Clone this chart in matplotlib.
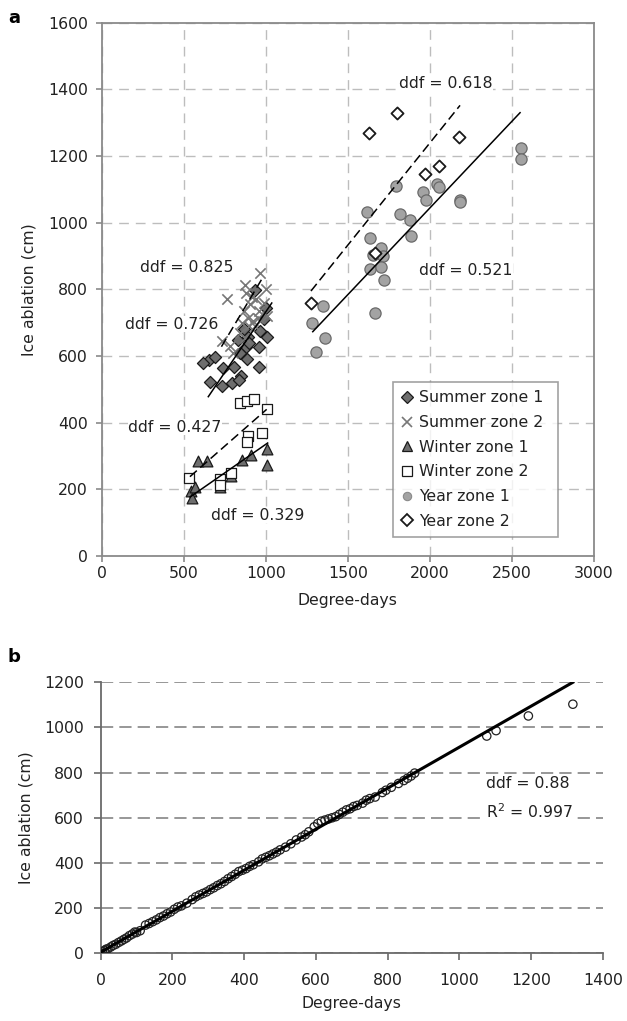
import matplotlib
matplotlib.use("Agg")
import matplotlib.pyplot as plt
from matplotlib.lines import Line2D

plt.rcParams['font.family'] = ['DejaVu Sans']

# ---------------- Panel a data ----------------
summer1_x = [935, 965, 1010, 894, 833, 880, 961, 841, 884, 961, 656, 691, 741, 807, 849, 660, 732, 793, 839, 870, 900, 1000, 990, 620]
summer1_y = [798, 675, 658, 656, 648, 626, 628, 608, 592, 568, 588, 598, 563, 566, 540, 521, 510, 518, 528, 680, 640, 745, 710, 580]

summer2_x = [965, 874, 766, 915, 1006, 880, 905, 940, 960, 990, 870, 895, 925, 950, 855, 900, 845, 875, 732, 803, 780, 935, 1000]
summer2_y = [850, 813, 770, 778, 720, 790, 755, 770, 735, 760, 735, 715, 705, 715, 700, 690, 670, 655, 645, 608, 630, 690, 800]

winter1_x = [589, 644, 1010, 1006, 909, 853, 543, 549, 569, 721, 787]
winter1_y = [285, 285, 320, 273, 303, 288, 195, 173, 206, 206, 240]

winter2_x = [843, 888, 929, 1006, 894, 976, 888, 787, 721, 721, 534]
winter2_y = [458, 466, 470, 440, 360, 370, 343, 250, 230, 212, 233]

year1_x = [2555, 2555, 2043, 2059, 1795, 1961, 1976, 2185, 2185, 1616, 1819, 1880, 1884,
           1636, 1703, 1656, 1717, 1636, 1703, 1720, 1669, 1351, 1284, 1363, 1307]
year1_y = [1225, 1191, 1115, 1108, 1110, 1092, 1067, 1068, 1063, 1032, 1025, 1007, 960,
           953, 925, 903, 901, 861, 866, 828, 729, 751, 700, 653, 611]

year2_x = [1799, 1628, 2181, 2059, 1971, 1669, 1276]
year2_y = [1330, 1268, 1258, 1170, 1145, 910, 758]

# regression line end points
fit_s1_x, fit_s1_y = [650, 1037], [478, 759]
fit_s2_x, fit_s2_y = [730, 985], [628, 838]
fit_w1_x, fit_w1_y = [539, 1012], [177, 339]
fit_w2_x, fit_w2_y = [538, 1006], [238, 440]
fit_y1_x, fit_y1_y = [1287, 2551], [673, 1330]
fit_y2_x, fit_y2_y = [1276, 2185], [795, 1352]

ddf_labels = ["ddf = 0.618", "ddf = 0.521", "ddf = 0.825", "ddf = 0.726", "ddf = 0.427", "ddf = 0.329"]
ddf_label_x = [2099, 2222, 518, 429, 447, 953]
ddf_label_y = [1418, 858, 866, 695, 386, 123]

legend_labels = ["Summer zone 1", "Summer zone 2", "Winter zone 1", "Winter zone 2", "Year zone 1", "Year zone 2"]

# ---------------- Panel b data ----------------
b_x = [0, 5, 10, 15, 20, 28, 35, 42, 50, 58, 65, 72, 80, 88, 95, 100, 110, 125, 135, 145,
       155, 165, 175, 185, 195, 205, 215, 225, 240, 255, 265, 275, 285, 295, 305, 315, 325,
       335, 345, 355, 365, 375, 385, 395, 405, 415, 425, 440, 450, 460, 470, 480, 490, 500,
       515, 530, 545, 560, 570, 580, 595, 605, 615, 625, 635, 645, 655, 665, 675, 685, 695,
       705, 715, 730, 740, 750, 765, 785, 795, 810, 830, 845, 855, 865, 875,
       1076, 1102, 1192, 1316]
b_y = [0, 8, 12, 18, 20, 28, 35, 40, 48, 55, 62, 68, 78, 85, 94, 92, 100, 125, 132, 140,
       148, 158, 165, 175, 183, 195, 205, 210, 222, 238, 250, 258, 265, 272, 282, 290, 300,
       308, 318, 330, 340, 350, 362, 368, 375, 385, 392, 405, 418, 425, 432, 440, 448, 458,
       470, 485, 502, 515, 525, 538, 560, 575, 585, 590, 595, 600, 605, 615, 625, 635, 640,
       650, 655, 665, 678, 685, 692, 712, 722, 735, 752, 765, 775, 785, 798,
       962, 986, 1051, 1103]
fit_b_x, fit_b_y = [0, 1316], [5, 1200]
b_labels = ["ddf = 0.88", "R$^2$ = 0.997"]
b_label_x = [1074, 1074]
b_label_y = [750, 627]

# ---------------- Figure ----------------
W, H = 627, 1021
fig = plt.figure(figsize=(W / 100, H / 100), dpi=100)
FS = 11.3
spine_c = '#8a8a8a'
txt_c = '#222222'

axa = fig.add_axes([101.7 / W, (H - 556) / H, 492 / W, 533.3 / H])
axa.set_xlim(0, 3000)
axa.set_ylim(0, 1600)
axa.set_xticks(range(0, 3001, 500))
axa.set_yticks(range(0, 1601, 200))
axa.grid(True, color='#bdbdbd', linestyle=(0, (7, 5)), linewidth=1.0)
axa.set_axisbelow(True)
for s in axa.spines.values():
    s.set_color(spine_c)
    s.set_linewidth(1.3)
axa.tick_params(colors=spine_c, labelcolor=txt_c, labelsize=FS, length=4, width=1.2, direction='out')
axa.tick_params(axis='y', pad=6)

dark = '#6e6e6e'
axa.scatter(summer1_x, summer1_y, marker='D', s=38, facecolor=dark, edgecolor='#1a1a1a', linewidth=0.9, zorder=3)
axa.scatter(summer2_x, summer2_y, marker='x', s=55, color='#777777', linewidth=1.2, zorder=3)
axa.scatter(winter1_x, winter1_y, marker='^', s=60, facecolor=dark, edgecolor='#1a1a1a', linewidth=0.9, zorder=3)
axa.scatter(winter2_x, winter2_y, marker='s', s=60, facecolor='white', edgecolor='#1a1a1a', linewidth=0.9, zorder=3)
axa.scatter(year1_x, year1_y, marker='o', s=65, facecolor='#a3a3a3', edgecolor='#6a6a6a', linewidth=0.9, zorder=3)
axa.scatter(year2_x, year2_y, marker='D', s=38, facecolor='white', edgecolor='#1a1a1a', linewidth=1.3, zorder=3)

axa.plot(fit_s1_x, fit_s1_y, color='black', lw=1.1, zorder=4)
axa.plot(fit_s2_x, fit_s2_y, color='black', lw=1.1, ls=(0, (6, 3)), zorder=4)
axa.plot(fit_w1_x, fit_w1_y, color='black', lw=1.1, zorder=4)
axa.plot(fit_w2_x, fit_w2_y, color='black', lw=1.1, ls=(0, (6, 3)), zorder=4)
axa.plot(fit_y1_x, fit_y1_y, color='black', lw=1.1, zorder=4)
axa.plot(fit_y2_x, fit_y2_y, color='black', lw=1.1, ls=(0, (6, 3)), zorder=4)

for t, x, y in zip(ddf_labels, ddf_label_x, ddf_label_y):
    axa.text(x, y, t, ha='center', va='center', fontsize=FS, color=txt_c, zorder=5,
             bbox=dict(facecolor='white', edgecolor='none', pad=0.5))

handles = [
    Line2D([], [], ls='none', marker='D', ms=6, mfc=dark, mec='#1a1a1a', mew=0.9),
    Line2D([], [], ls='none', marker='x', ms=7, color='#777777', mew=1.2),
    Line2D([], [], ls='none', marker='^', ms=7.5, mfc=dark, mec='#1a1a1a', mew=0.9),
    Line2D([], [], ls='none', marker='s', ms=7.5, mfc='white', mec='#1a1a1a', mew=0.9),
    Line2D([], [], ls='none', marker='o', ms=6, mfc='#a3a3a3', mec='#8a8a8a', mew=0.8),
    Line2D([], [], ls='none', marker='D', ms=6, mfc='white', mec='#1a1a1a', mew=1.3),
]
leg = axa.legend(handles, legend_labels, loc='lower left',
                 bbox_to_anchor=(0.5915, 0.036, 0.335, 0.3), mode='expand',
                 borderaxespad=0, fontsize=FS, frameon=True, fancybox=False,
                 handlelength=0.8, handletextpad=0.35, labelspacing=0.62, borderpad=0.5)
leg.get_frame().set_edgecolor('#8a8a8a')
leg.get_frame().set_linewidth(1.2)
for t in leg.get_texts():
    t.set_color(txt_c)

axa.set_xlabel('Degree-days', fontsize=FS, color=txt_c, labelpad=8)
axa.set_ylabel('Ice ablation (cm)', fontsize=FS, color=txt_c, labelpad=8)

fig.text(14 / W, 1 - 18 / H, 'a', fontsize=13, fontweight='bold', ha='center', va='center')

# ---------------- Panel b ----------------
axb = fig.add_axes([100.7 / W, (H - 953.3) / H, 502.3 / W, 271 / H])
axb.set_xlim(0, 1400)
axb.set_ylim(0, 1200)
axb.set_xticks(range(0, 1401, 200))
axb.set_yticks(range(0, 1201, 200))
axb.yaxis.grid(True, color='#7a7a7a', linestyle=(0, (8, 4)), linewidth=1.1)
axb.set_axisbelow(True)
axb.spines['top'].set_visible(False)
axb.spines['right'].set_visible(False)
for k in ('left', 'bottom'):
    axb.spines[k].set_color('#6a6a6a')
    axb.spines[k].set_linewidth(1.3)
axb.tick_params(colors='#6a6a6a', labelcolor=txt_c, labelsize=FS, length=5, width=1.2, direction='out')
axb.tick_params(axis='x', pad=9)
axb.tick_params(axis='y', pad=7)

axb.scatter(b_x, b_y, marker='o', s=36, facecolor='none', edgecolor='#222222', linewidth=0.9, zorder=3)
axb.plot(fit_b_x, fit_b_y, color='black', lw=2.2, zorder=4)

for t, x, y in zip(b_labels, b_label_x, b_label_y):
    axb.text(x, y, t, ha='left', va='center', fontsize=FS, color=txt_c, zorder=5,
             bbox=dict(facecolor='white', edgecolor='none', pad=0.5))

axb.set_xlabel('Degree-days', fontsize=FS, color=txt_c, labelpad=6)
axb.set_ylabel('Ice ablation (cm)', fontsize=FS, color=txt_c, labelpad=8)

fig.text(14 / W, 1 - 657 / H, 'b', fontsize=13, fontweight='bold', ha='center', va='center')

fig.savefig('out.png', dpi=100, facecolor='white')
